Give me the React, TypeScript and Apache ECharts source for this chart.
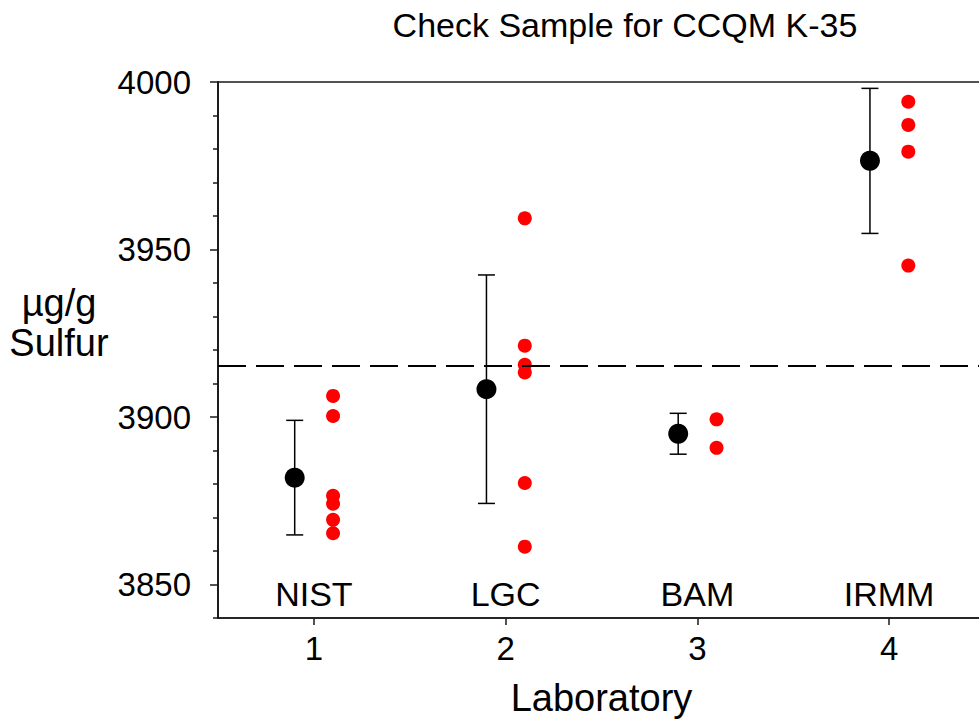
import React, { useEffect, useRef } from "react";
import * as echarts from "echarts";

const labCategories = ["NIST", "LGC", "BAM", "IRMM"];
const labPositions = [1, 2, 3, 4];
const meanValues = [3881.9, 3908.3, 3895.0, 3976.5];
const errLow = [3864.8, 3874.2, 3888.9, 3954.8];
const errHigh = [3899.0, 3942.4, 3901.1, 3998.1];
const nistResults = [3906.3, 3900.3, 3876.5, 3874.1, 3869.3, 3865.3];
const lgcResults = [3959.3, 3921.3, 3915.6, 3913.3, 3880.3, 3861.3];
const bamResults = [3899.3, 3890.8];
const irmmResults = [3994.1, 3987.2, 3979.2, 3945.2];
const referenceValue = 3915.4;
const meanOffset = -0.1;
const resultOffset = 0.1;
const labNameY = 3847.3;
const xTickValues = [1, 2, 3, 4];
const yMajorTicks = [3850, 3900, 3950, 4000];
const yMinorTicks = [3840, 3860, 3870, 3880, 3890, 3910, 3920, 3930, 3940, 3960, 3970, 3980, 3990];

const FONT = "'Liberation Sans', Arial, sans-serif";
const AXIS_COLOR = "#1a1a1a";

export default function App() {
  const ref = useRef<HTMLDivElement>(null);
  useEffect(() => {
    if (!ref.current) return;
    const chart = echarts.init(ref.current, null, { renderer: "svg" });

    const meanData = labPositions.map((p, i) => [p + meanOffset, meanValues[i]]);
    const errData = labPositions.map((p, i) => [p + meanOffset, errLow[i], errHigh[i]]);
    const allResults = [nistResults, lgcResults, bamResults, irmmResults];
    const resultData: number[][] = [];
    allResults.forEach((arr, i) => arr.forEach((v) => resultData.push([labPositions[i] + resultOffset, v])));
    const nameData = labPositions.map((p) => [p, labNameY]);

    chart.setOption({
      animation: false,
      backgroundColor: "#fff",
      grid: {
        left: 218,
        top: 82,
        width: 767,
        height: 536,
        outerBoundsMode: "none",
        containLabel: false,
        show: true,
        borderColor: AXIS_COLOR,
        borderWidth: 1.5,
        backgroundColor: "transparent",
      },
      graphic: [
        {
          type: "text",
          x: 625,
          y: 25,
          style: {
            text: "Check Sample for CCQM K-35",
            font: `34px ${FONT}`,
            fill: "#000",
            textAlign: "center",
            textVerticalAlign: "middle",
          },
        },
        {
          type: "text",
          x: 59,
          y: 323,
          style: {
            text: "µg/g\nSulfur",
            font: `38px ${FONT}`,
            lineHeight: 40,
            fill: "#000",
            textAlign: "center",
            textVerticalAlign: "middle",
          },
        },
      ],
      xAxis: {
        type: "value",
        min: 0.5,
        max: 4.5,
        name: "Laboratory",
        nameLocation: "middle",
        nameGap: 61,
        nameTextStyle: { fontSize: 38, fontFamily: FONT, color: "#000" },
        axisLine: { show: true, lineStyle: { color: AXIS_COLOR, width: 1.5 } },
        axisTick: { show: true, length: 7, customValues: xTickValues, lineStyle: { color: AXIS_COLOR, width: 1.5 } },
        axisLabel: { customValues: xTickValues, fontSize: 33, fontFamily: FONT, color: "#000", margin: 14 },
        splitLine: { show: false },
      },
      yAxis: [
        {
          type: "value",
          min: 3840,
          max: 4000,
          position: "left",
          axisLine: { show: true, lineStyle: { color: AXIS_COLOR, width: 1.5 } },
          axisTick: { show: true, length: 8, customValues: yMajorTicks, lineStyle: { color: AXIS_COLOR, width: 1.5 } },
          axisLabel: {
            customValues: yMajorTicks,
            formatter: (v: number) => String(v),
            fontSize: 33,
            fontFamily: FONT,
            color: "#000",
            margin: 27,
          },
          splitLine: { show: false },
        },
        {
          type: "value",
          min: 3840,
          max: 4000,
          position: "left",
          offset: 0,
          axisLine: { show: true, lineStyle: { color: AXIS_COLOR, width: 1.5 } },
          axisTick: { show: true, length: 5, customValues: yMinorTicks, lineStyle: { color: AXIS_COLOR, width: 1.5 } },
          axisLabel: { show: false },
          splitLine: { show: false },
        },
      ],
      series: [
        {
          type: "custom",
          name: "uncertainty",
          z: 2,
          data: errData,
          encode: { x: 0, y: [1, 2] },
          renderItem: (params: any, api: any) => {
            const x = api.value(0);
            const lo = api.coord([x, api.value(1)]);
            const hi = api.coord([x, api.value(2)]);
            const w = 8.5;
            const style = { stroke: "#000", lineWidth: 1.5 };
            return {
              type: "group",
              children: [
                { type: "line", shape: { x1: lo[0], y1: lo[1], x2: hi[0], y2: hi[1] }, style },
                { type: "line", shape: { x1: lo[0] - w, y1: lo[1], x2: lo[0] + w, y2: lo[1] }, style },
                { type: "line", shape: { x1: hi[0] - w, y1: hi[1], x2: hi[0] + w, y2: hi[1] }, style },
              ],
            };
          },
          markLine: {
            silent: true,
            symbol: "none",
            label: { show: false },
            lineStyle: { color: "#000", width: 2, type: [28, 10] },
            data: [{ yAxis: referenceValue }],
          },
        },
        {
          type: "scatter",
          name: "mean",
          z: 4,
          symbol: "circle",
          symbolSize: 20,
          itemStyle: { color: "#000", opacity: 1 },
          data: meanData,
        },
        {
          type: "scatter",
          name: "results",
          z: 3,
          symbol: "circle",
          symbolSize: 14,
          itemStyle: { color: "#ff0000", opacity: 1 },
          data: resultData,
        },
        {
          type: "custom",
          name: "labs",
          z: 5,
          data: nameData,
          renderItem: (params: any, api: any) => {
            const p = api.coord([api.value(0), api.value(1)]);
            return {
              type: "text",
              x: p[0],
              y: p[1],
              style: {
                text: labCategories[params.dataIndex],
                font: `34px ${FONT}`,
                fill: "#000",
                textAlign: "center",
                textVerticalAlign: "middle",
              },
            };
          },
        },
      ],
    });
    return () => chart.dispose();
  }, []);
  return <div ref={ref} style={{ position: "absolute", left: 0, top: 0, width: 979, height: 719 }} />;
}
